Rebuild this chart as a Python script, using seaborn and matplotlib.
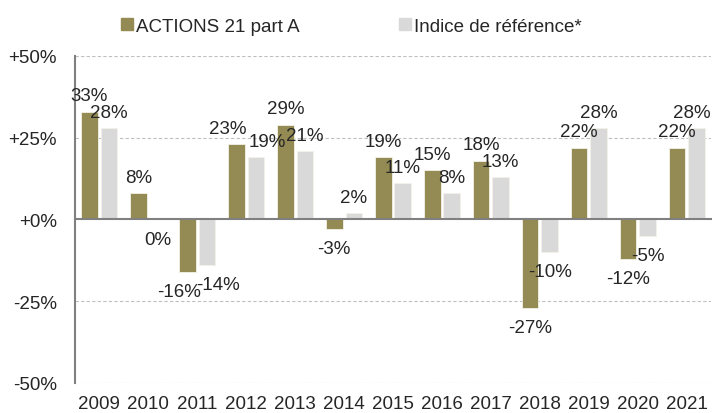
import numpy as np
import pandas as pd
import matplotlib
matplotlib.use("Agg")
import matplotlib.pyplot as plt
import seaborn as sns

# Data (annual performance, %)
years = ["2009", "2010", "2011", "2012", "2013", "2014", "2015",
         "2016", "2017", "2018", "2019", "2020", "2021"]
fund = [33, 8, -16, 23, 29, -3, 19, 15, 18, -27, 22, -12, 22]
index_ref = [28, 0, -14, 19, 21, 2, 11, 8, 13, -10, 28, -5, 28]
series_names = ["ACTIONS 21 part A", "Indice de référence*"]
y_ticks = [-50, -25, 0, 25, 50]
y_tick_labels = ["-50%", "-25%", "+0%", "+25%", "+50%"]

df = pd.DataFrame({
    "year": years * 2,
    "value": fund + index_ref,
    "serie": [series_names[0]] * len(years) + [series_names[1]] * len(years),
})

FS = 13.5
sns.set_style("white")
plt.rcParams["font.family"] = ["Liberation Sans", "DejaVu Sans"]
plt.rcParams["font.size"] = FS

fig = plt.figure(figsize=(7.12, 4.14), dpi=100)
ax = fig.add_axes([0.105, 0.0725, 0.894, 0.79])

sns.barplot(data=df, x="year", y="value", hue="serie", order=years,
            hue_order=series_names, palette=["#948A54", "#D9D9D9"],
            width=0.8, gap=0.15, ax=ax, legend=False, saturation=1,
            edgecolor="#F4F1E8", linewidth=0.6)

ax.set_ylim(-50, 50)
ax.set_xlim(-0.5, len(years) - 0.5)
ax.set_yticks(y_ticks, labels=y_tick_labels)
ax.set_xlabel("")
ax.set_ylabel("")

# dashed gridlines except at zero
for t in y_ticks:
    if t != 0:
        ax.axhline(t, color="#BFBFBF", lw=0.8, ls=(0, (3, 2)), zorder=0)

for s in ["top", "right"]:
    ax.spines[s].set_visible(False)
ax.spines["left"].set_color("#808080")
ax.spines["left"].set_linewidth(1.5)
ax.spines["bottom"].set_position(("data", 0))
ax.spines["bottom"].set_color("#808080")
ax.spines["bottom"].set_linewidth(1.5)

# category boundary ticks on the zero line
ax.set_xticks(np.arange(len(years) - 1) + 0.5, minor=True)
ax.tick_params(axis="x", which="minor", length=8, width=1, color="#808080",
               direction="inout")
ax.tick_params(axis="x", which="major", length=0, labelbottom=False)
ax.tick_params(axis="y", length=0, pad=13)

sec = ax.secondary_xaxis(0.0)
sec.set_xticks(range(len(years)), labels=years)
sec.tick_params(length=0, pad=9)
sec.spines["bottom"].set_visible(False)

# data labels
labels = []
for ci, cont in enumerate(ax.containers):
    other = index_ref if ci == 0 else fund
    own = fund if ci == 0 else index_ref
    for i, bar in enumerate(cont):
        v = own[i]
        xc = bar.get_x() + bar.get_width() / 2
        dx = 0
        # push apart labels that would collide
        if (v > 0) == (other[i] > 0) and abs(v - other[i]) < 4.5:
            dx = -6 if ci == 0 else 8
        dy = 8 if v > 0 else -8
        va = "baseline" if v > 0 else "top"
        labels.append(ax.annotate(f"{v}%", (xc, v), xytext=(dx, dy),
                                  textcoords="offset points", ha="center",
                                  va=va, fontsize=FS))

# keep labels inside the figure
fig.canvas.draw()
renderer = fig.canvas.get_renderer()
for t in labels:
    bb = t.get_window_extent(renderer)
    over = bb.x1 - fig.bbox.width + 1
    if over > 0:
        ox, oy = t.xyann
        t.xyann = (ox - over * 72 / fig.dpi, oy)

handles = [plt.Rectangle((0, 0), 1, 1, color=c) for c in ["#948A54", "#D9D9D9"]]
fig.legend(handles, series_names, loc="upper center", bbox_to_anchor=(0.494, 0.995),
           ncol=2, frameon=False, handlelength=0.6, handleheight=0.6,
           handletextpad=0.2, columnspacing=5.3, fontsize=FS)

fig.savefig("out.png", dpi=100)
